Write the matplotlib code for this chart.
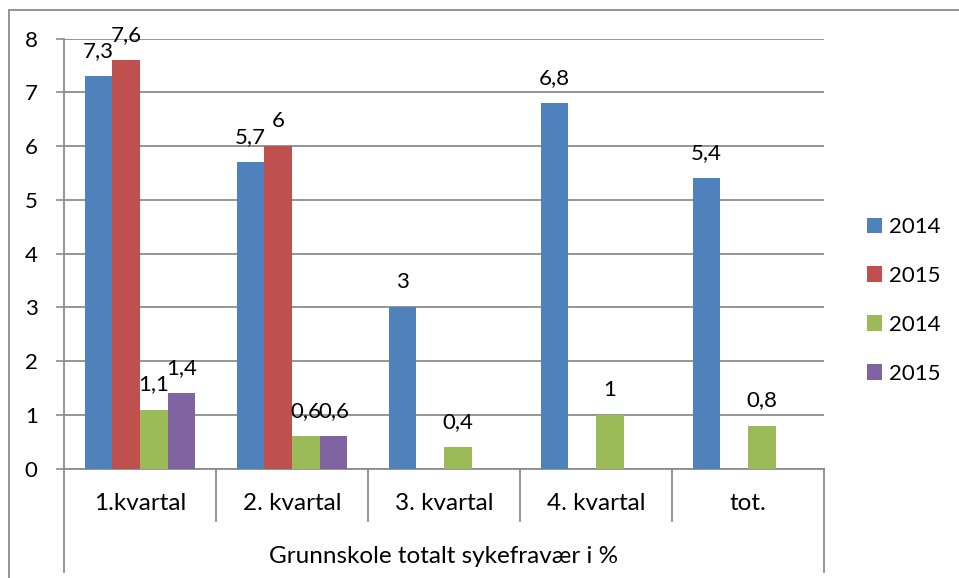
"""
Grunnskole totalt sykefravaer i % - grouped bar chart (Excel style)
"""
import numpy as np
import matplotlib.pyplot as plt
from matplotlib.patches import Patch
from matplotlib.lines import Line2D

plt.rcParams['font.family'] = ['Lato', 'DejaVu Sans']

# Data
categories = ["1.kvartal", "2. kvartal", "3. kvartal", "4. kvartal", "tot."]
group_label = "Grunnskole totalt sykefravær i %"
series_names = ["2014", "2015", "2014", "2015"]
blue_2014 = [7.3, 5.7, 3, 6.8, 5.4]
red_2015 = [7.6, 6, np.nan, np.nan, np.nan]
green_2014 = [1.1, 0.6, 0.4, 1, 0.8]
purple_2015 = [1.4, 0.6, np.nan, np.nan, np.nan]
yticks = [0, 1, 2, 3, 4, 5, 6, 7, 8]

series = [blue_2014, red_2015, green_2014, purple_2015]
colors = ["#4F81BD", "#C0504D", "#9BBB59", "#8064A2"]

FS = 16        # numbers
FS_TXT = 17.5  # category texts
W, H = 959, 578
fig = plt.figure(figsize=(W / 100, H / 100), dpi=100)

# plot area in pixels
left, right, top, bottom = 64, 824, 38.7, 468.7
ax = fig.add_axes([left / W, (H - bottom) / H, (right - left) / W, (bottom - top) / H])
ax_h = bottom - top

grid_col = "#8c8c8c"
n_series = len(series)
bar_w = 1 / (n_series + 1.5)
x = np.arange(len(categories)) + 0.5

for i, (vals, col) in enumerate(zip(series, colors)):
    pos = x + (i - (n_series - 1) / 2) * bar_w
    ax.bar(pos, vals, width=bar_w, color=col, zorder=3)
    for px, v in zip(pos, vals):
        if np.isnan(v):
            continue
        lbl = f"{v:g}".replace(".", ",")
        ax.annotate(lbl, (px, v), xytext=(0, 14), textcoords="offset points",
                    ha="center", va="baseline", fontsize=FS, color="black")

ax.set_xlim(0, len(categories))
ax.set_ylim(0, 8)
ax.set_yticks(yticks)
ax.set_yticklabels([str(t) for t in yticks], fontsize=FS)
ax.tick_params(axis="y", length=6, width=1.2, color=grid_col, pad=13)
ax.set_xticks([])
ax.grid(axis="y", color=grid_col, linewidth=1.3, zorder=0)
ax.set_axisbelow(True)
for s in ["top", "right"]:
    ax.spines[s].set_visible(False)
for s in ["left", "bottom"]:
    ax.spines[s].set_color(grid_col)
    ax.spines[s].set_linewidth(1.3)

# multi-level category axis
xt = ax.get_xaxis_transform()
inner = 52 / ax_h
outer = 103 / ax_h
for b in range(len(categories) + 1):
    depth = outer if b in (0, len(categories)) else inner
    ax.add_line(Line2D([b, b], [0, -depth], transform=xt, color=grid_col,
                       linewidth=1.3, clip_on=False))
for cx, c in zip(x, categories):
    ax.text(cx, -35 / ax_h, c, transform=xt, ha="center", va="center", fontsize=FS_TXT)
ax.text(len(categories) / 2, -88 / ax_h, group_label, transform=xt,
        ha="center", va="center", fontsize=FS_TXT)

# legend
handles = [Patch(facecolor=c, edgecolor="none") for c in colors]
fig.legend(handles, series_names, loc="upper left",
           bbox_to_anchor=(847 / W, 1 - 197 / H), frameon=False, fontsize=FS,
           handlelength=0.68, handleheight=0.68, handletextpad=0.32, labelspacing=1.30)

# chart border (top and left visible)
fig.add_artist(Line2D([9 / W, 1], [1 - 10 / H, 1 - 10 / H], color="#8c8c8c", linewidth=1.3))
fig.add_artist(Line2D([9 / W, 9 / W], [1 - 10 / H, 0], color="#8c8c8c", linewidth=1.3))

fig.savefig("out.png", dpi=100, facecolor="white")
